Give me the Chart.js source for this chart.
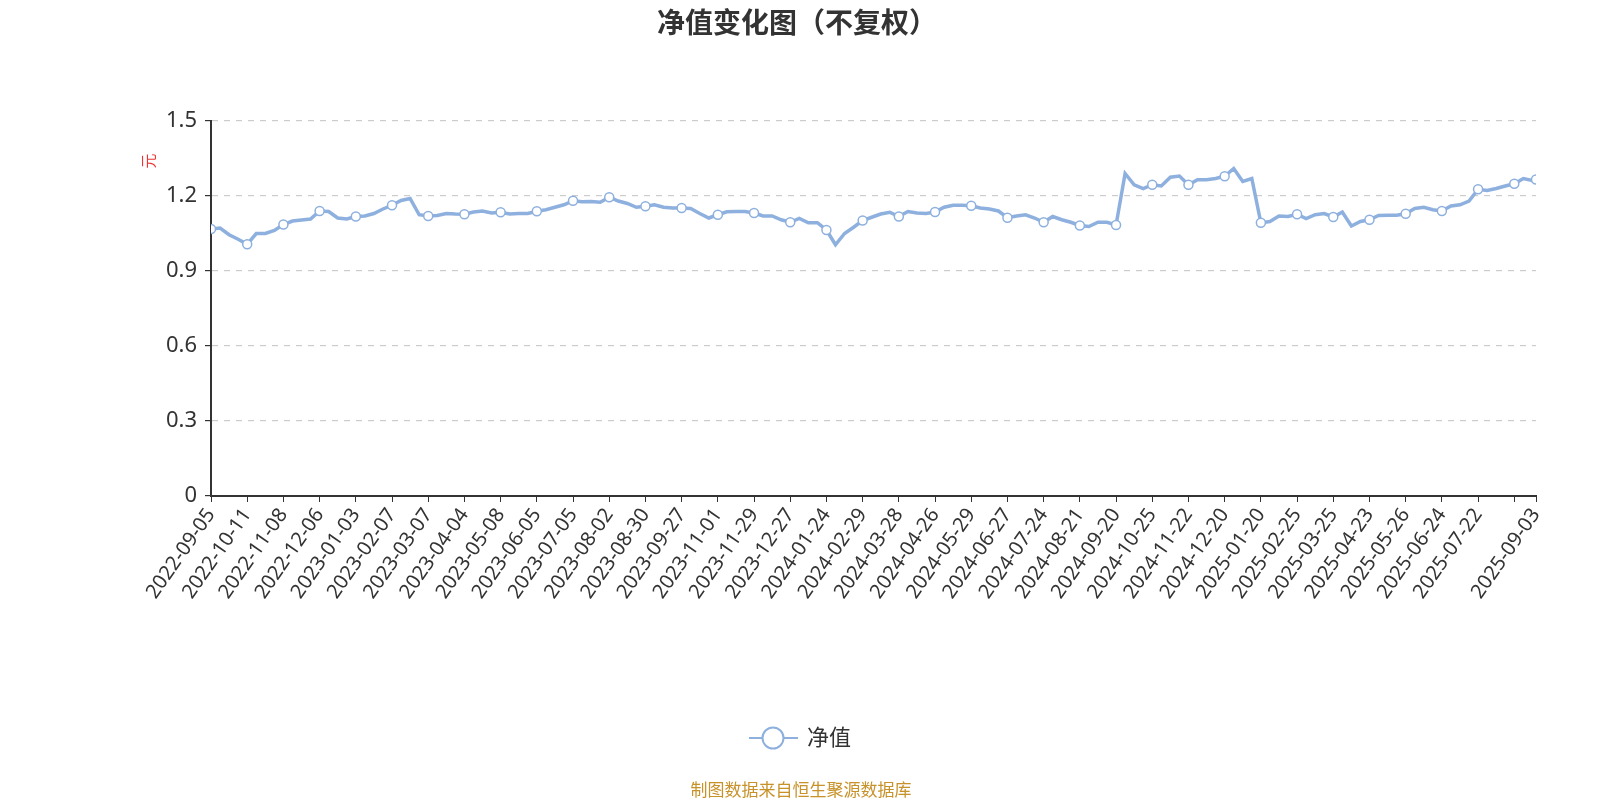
<!DOCTYPE html>
<html><head><meta charset="utf-8">
<script src="https://cdn.jsdelivr.net/npm/chart.js@4/dist/chart.umd.min.js"></script>
<style>body{margin:0;background:#fff}#w{width:1600px;height:800px}</style>
</head><body><div id="w"><canvas id="c"></canvas></div>
<script>
const tickIdx=[0,20,40,60,80,100,120,140,160,180,200,220,240,260,280,300,320,340,360,380,400,420,440,460,480,500,520,540,560,580,600,620,640,660,680,700,720,732];
const tickLabels=["2022-09-05","2022-10-11","2022-11-08","2022-12-06","2023-01-03","2023-02-07","2023-03-07","2023-04-04","2023-05-08","2023-06-05","2023-07-05","2023-08-02","2023-08-30","2023-09-27","2023-11-01","2023-11-29","2023-12-27","2024-01-24","2024-02-29","2024-03-28","2024-04-26","2024-05-29","2024-06-27","2024-07-24","2024-08-21","2024-09-20","2024-10-25","2024-11-22","2024-12-20","2025-01-20","2025-02-25","2025-03-25","2025-04-23","2025-05-26","2025-06-24","2025-07-22","","2025-09-03"];
const navValues=[1.068,1.072,1.045,1.027,1.007,1.05,1.05,1.062,1.086,1.100,1.104,1.108,1.140,1.138,1.112,1.108,1.118,1.12,1.13,1.148,1.163,1.182,1.19,1.125,1.120,1.122,1.13,1.128,1.127,1.136,1.14,1.132,1.135,1.128,1.13,1.13,1.139,1.145,1.155,1.165,1.181,1.177,1.178,1.175,1.195,1.18,1.17,1.155,1.159,
1.165,1.155,1.152,1.152,1.15,1.13,1.112,1.125,1.137,1.138,1.138,1.132,1.12,1.12,1.105,1.095,1.11,1.093,1.093,1.064,1.005,1.05,1.075,1.102,1.115,1.128,1.135,1.118,1.138,1.132,1.13,1.136,1.155,1.163,1.163,1.161,1.152,1.148,1.14,1.113,1.12,1.125,1.112,1.095,1.118,1.105,1.095,1.082,
1.078,1.095,1.095,1.084,1.29,1.245,1.23,1.245,1.24,1.275,1.28,1.245,1.265,1.265,1.27,1.279,1.31,1.258,1.27,1.093,1.098,1.12,1.118,1.127,1.11,1.125,1.13,1.116,1.136,1.08,1.098,1.105,1.122,1.123,1.123,1.129,1.15,1.155,1.145,1.14,1.16,1.165,1.18,1.227,1.222,1.23,1.24,1.249,1.27,1.262,1.266];
const dayIdx=navValues.map((v,i)=>i<navValues.length-1?i*5:732);
const pts=navValues.map((v,i)=>({x:dayIdx[i],y:v}));
const col='#8eb0de';
const deco={id:'deco',afterDraw(ch){const c=ch.ctx;c.save();
c.fillStyle='#333';c.font='bold 28px "Noto Sans CJK SC"';c.textAlign='center';c.textBaseline='middle';
c.fillText('净值变化图（不复权）',797,22);
c.save();c.translate(148,161);c.rotate(-Math.PI/2);c.fillStyle='#e33';c.font='15px "Noto Sans CJK SC"';c.fillText('元',0,0);c.restore();
c.strokeStyle=col;c.lineWidth=2;c.beginPath();c.moveTo(749,738);c.lineTo(798,738);c.stroke();
c.fillStyle='#fff';c.beginPath();c.arc(773,738,10.5,0,Math.PI*2);c.fill();c.stroke();
c.fillStyle='#333';c.font='22px "Noto Sans CJK SC"';c.textAlign='left';c.fillText('净值',807,737);
c.fillStyle='#c8922a';c.font='17px "Noto Sans CJK SC"';c.textAlign='center';c.fillText('制图数据来自恒生聚源数据库',801,790);
c.restore();}};
new Chart(document.getElementById('c'),{type:'line',
data:{datasets:[{data:pts,borderColor:col,borderWidth:3.5,tension:0,
pointRadius:ctx=>tickIdx.includes(ctx.raw&&ctx.raw.x)?4.5:0,pointHoverRadius:0,
pointBackgroundColor:'#fff',pointBorderColor:col,pointBorderWidth:1.5}]},
options:{responsive:true,maintainAspectRatio:false,animation:false,
layout:{padding:{top:121,right:64,left:0,bottom:0}},
plugins:{legend:{display:false},tooltip:{enabled:false}},
scales:{
x:{type:'linear',min:0,max:732,
afterBuildTicks:s=>{s.ticks=tickIdx.map(v=>({value:v}));},
afterFit:s=>{s.height=304;},
ticks:{autoSkip:false,maxRotation:55,minRotation:55,color:'#333',font:{size:20,family:'"Noto Sans"'},padding:2,
callback:v=>{const i=tickIdx.indexOf(v);return i>=0?tickLabels[i]:'';}},
grid:{drawOnChartArea:false,drawTicks:true,tickLength:6,color:'#333'},border:{color:'#333',width:2}},
y:{min:0,max:1.5,
afterBuildTicks:s=>{s.ticks=[0,0.3,0.6,0.9,1.2,1.5].map(v=>({value:v}));},
afterFit:s=>{s.width=211;},
ticks:{color:'#333',font:{size:22,family:'"Noto Sans"'},padding:8,callback:v=>String(+v.toFixed(1))},
grid:{color:'#ccc',tickLength:6,tickColor:'#333',lineWidth:1.2,drawTicks:true},
border:{color:'#333',width:2,dash:ctx=>[6,6]}}}},
plugins:[deco]});
</script></body></html>
